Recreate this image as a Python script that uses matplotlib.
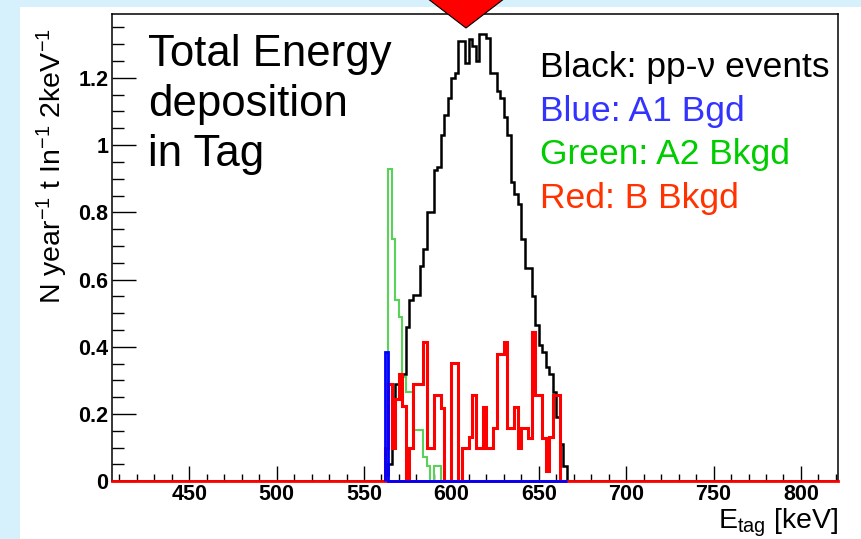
import numpy as np
import matplotlib
matplotlib.use("Agg")
import matplotlib.pyplot as plt
from matplotlib.patches import Rectangle, Polygon
from matplotlib.ticker import MultipleLocator, FixedLocator, FixedFormatter

# ---------------- data ----------------
bin_start = 562.0   # keV
bin_width = 2.0     # keV
black_pp_nu = [0.02, 0.05, 0.20, 0.29, 0.31, 0.32, 0.46, 0.54, 0.555, 0.555,
               0.64, 0.69, 0.80, 0.80, 0.925, 0.935, 1.03, 1.09, 1.14, 1.20,
               1.215, 1.31, 1.31, 1.245, 1.315, 1.295, 1.25, 1.33, 1.33, 1.32,
               1.215, 1.215, 1.16, 1.14, 1.085, 1.03, 0.89, 0.855, 0.825, 0.72,
               0.635, 0.635, 0.55, 0.465, 0.405, 0.385, 0.34, 0.32, 0.267, 0.19,
               0.11, 0.045]
blue_a1 = [0.385] + [0.0] * 51
green_a2 = [0.0, 0.93, 0.72, 0.54, 0.49, 0.31, 0.267, 0.267, 0.153, 0.153,
            0.153, 0.073, 0.046, 0.0, 0.046, 0.046] + [0.0] * 36
red_b = [0.098, 0.29, 0.10, 0.245, 0.32, 0.225, 0.0, 0.098, 0.29, 0.29,
         0.29, 0.415, 0.098, 0.098, 0.257, 0.257, 0.217, 0.0, 0.0, 0.352,
         0.352, 0.0, 0.098, 0.098, 0.133, 0.257, 0.098, 0.098, 0.222, 0.098,
         0.098, 0.158, 0.38, 0.38, 0.413, 0.158, 0.158, 0.222, 0.098, 0.158,
         0.158, 0.128, 0.445, 0.257, 0.257, 0.128, 0.03, 0.133, 0.257, 0.257,
         0.0, 0.0]
x_ticks = [450, 500, 550, 600, 650, 700, 750, 800]
y_ticks = [0, 0.2, 0.4, 0.6, 0.8, 1.0, 1.2]
y_tick_labels = ["0", "0.2", "0.4", "0.6", "0.8", "1", "1.2"]
title_lines = ["Total Energy", "deposition", "in Tag"]
legend_lines = ["Black: pp-\u03bd events", "Blue: A1 Bgd", "Green: A2 Bkgd", "Red: B Bkgd"]

# ---------------- style ----------------
plt.rcParams['font.family'] = ['Liberation Sans', 'DejaVu Sans']
plt.rcParams['mathtext.fontset'] = 'custom'
plt.rcParams['mathtext.rm'] = 'Liberation Sans'
plt.rcParams['mathtext.it'] = 'Liberation Sans:italic'
plt.rcParams['mathtext.bf'] = 'Liberation Sans:bold'

W, H = 861, 539
fig = plt.figure(figsize=(W / 100, H / 100), dpi=100, facecolor='#d6f1fb')
fig.patches.append(Rectangle((20 / W, 0), 1, 1 - 7 / H, transform=fig.transFigure,
                             facecolor='white', edgecolor='none', zorder=-5))

ax = fig.add_axes([112 / W, 1 - 481.3 / H, (838 - 112) / W, (481.3 - 14) / H])
ax.set_zorder(1)
ax.set_facecolor('white')

n = len(black_pp_nu)
edges = bin_start + bin_width * np.arange(n + 1)

ax.stairs(green_a2, edges, color='#5ad25a', lw=1.5, zorder=2)
ax.stairs(black_pp_nu, edges, color='black', lw=1.8, zorder=3)
ax.stairs(red_b, edges, color='#ff0000', lw=2.2, zorder=4)
ax.axhline(0, color='#ff0000', lw=2.0, zorder=6, clip_on=False)
ax.stairs(blue_a1, edges, color='#0000ff', lw=2.0, zorder=7, clip_on=False)

ax.set_xlim(405.8, 821.2)
ax.set_ylim(0, 1.39)

ax.xaxis.set_major_locator(FixedLocator(x_ticks))
ax.xaxis.set_minor_locator(MultipleLocator(10))
ax.yaxis.set_major_locator(FixedLocator(y_ticks))
ax.yaxis.set_major_formatter(FixedFormatter(y_tick_labels))
ax.yaxis.set_minor_locator(MultipleLocator(0.05))

ax.tick_params(which='both', direction='in', top=False, right=False, width=1.0,
               colors='black', labelsize=15.5)
ax.xaxis.set_tick_params(which='major', length=10.8, pad=2)
ax.xaxis.set_tick_params(which='minor', length=5.3)
ax.yaxis.set_tick_params(which='major', length=17, pad=2.5)
ax.yaxis.set_tick_params(which='minor', length=8.5)
for lab in ax.get_xticklabels() + ax.get_yticklabels():
    lab.set_fontweight('bold')
for s in ax.spines.values():
    s.set_linewidth(1.1)

# axis labels
fig.text(52 / W, 1 - 28 / H, r'N year$^{-1}$ t In$^{-1}$ 2keV$^{-1}$', rotation=90,
         ha='center', va='top', fontsize=20.5)
fig.text(839 / W, 1 - 528.5 / H, r'E$_{\mathrm{tag}}$ [keV]', ha='right',
         va='baseline', fontsize=20.5)

# title text
for i, t in enumerate(title_lines):
    fig.text(148 / W, 1 - (66 + 50 * i) / H, t, ha='left', va='baseline', fontsize=31.5)

# legend text
leg_colors = ['black', '#3333ff', '#00cc00', '#ff3300']
for i, (t, c) in enumerate(zip(legend_lines, leg_colors)):
    fig.text(540 / W, 1 - (77 + 43.7 * i) / H, t, ha='left', va='baseline',
             fontsize=25.5, color=c)

# red arrow marker at top
tri = Polygon([(423 / W, 1 + 5 / H), (509 / W, 1 + 5 / H), (466 / W, 1 - 28 / H)],
              closed=True, transform=fig.transFigure, facecolor='#ff0000',
              edgecolor='black', lw=0.8, zorder=10)
fig.patches.append(tri)

fig.savefig('out.png', dpi=100, facecolor=fig.get_facecolor())
